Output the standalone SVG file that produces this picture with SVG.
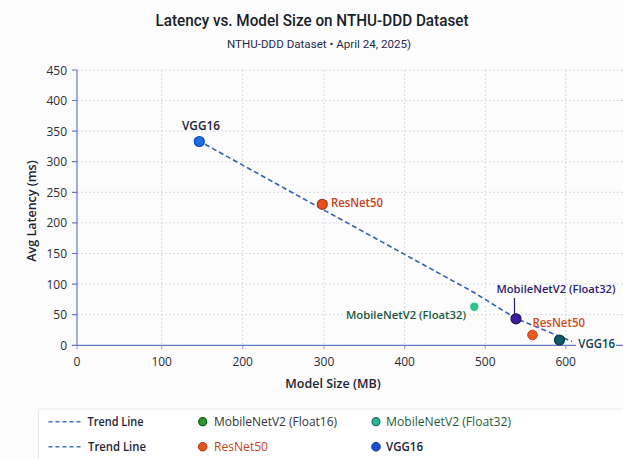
<svg xmlns="http://www.w3.org/2000/svg" width="623" height="459" viewBox="0 0 623 459">
<defs>
<style>
.title{font-family:Roboto,"Liberation Sans",sans-serif;font-weight:500;font-size:16.5px;fill:#1a1e2a;}
.sub{font-family:Roboto,"Liberation Sans",sans-serif;font-size:11px;fill:#1f2a4a;}
.grid{stroke:#d6dae3;stroke-width:1;stroke-dasharray:2 2;fill:none;}
.axis{stroke:#6677c4;stroke-width:1.2;fill:none;}
.tick{font-family:"Open Sans","Liberation Sans",sans-serif;font-size:12px;fill:#2a2d36;}
.axt{font-family:"Open Sans","Liberation Sans",sans-serif;font-size:12.5px;font-weight:600;fill:#1f2330;}
.trend{stroke:#2f63aa;stroke-width:1.6;stroke-dasharray:5 3;fill:none;}
.lbl{font-family:"Open Sans","Liberation Sans",sans-serif;font-size:12px;font-weight:600;}
.lbs{font-family:"Open Sans","Liberation Sans",sans-serif;font-size:11px;font-weight:600;}
.leg{font-family:"Open Sans","Liberation Sans",sans-serif;font-size:12px;}
</style>
</defs>
<rect x="0" y="0" width="623" height="459" fill="#fcfcfd"/>
<text class="title" x="312" y="26" text-anchor="middle" textLength="313" lengthAdjust="spacingAndGlyphs">Latency vs. Model Size on NTHU-DDD Dataset</text>
<text class="sub" x="319" y="48" text-anchor="middle" textLength="184" lengthAdjust="spacingAndGlyphs">NTHU-DDD Dataset • April 24, 2025)</text>

<g id="grid">
<path class="grid" d="M77,70H623M77,100.5H623M77,131.1H623M77,161.7H623M77,192.3H623M77,222.9H623M77,253.5H623M77,284.1H623M77,314.7H623"/>
<path class="grid" d="M161.7,70V345M242.7,70V345M324,70V345M404.7,70V345M485.3,70V345M565.7,70V345"/>
</g>

<g id="axes">
<path class="axis" d="M77,70V345.3M77,345.3H623"/>
<path class="axis" d="M72,70H77M72,100.5H77M72,131.1H77M72,161.7H77M72,192.3H77M72,222.9H77M72,253.5H77M72,284.1H77M72,314.7H77M72,345.3H77"/>
<path class="axis" d="M77,345.3V349.5M161.7,345.3V349M242.7,345.3V349M324,345.3V349M404.7,345.3V349M485.3,345.3V349M565.7,345.3V349" stroke-opacity="0.6"/>
<g class="tick" text-anchor="end">
<text x="67" y="74.5">450</text>
<text x="67" y="105">400</text>
<text x="67" y="135.6">350</text>
<text x="67" y="166.2">300</text>
<text x="67" y="196.8">250</text>
<text x="67" y="227.4">200</text>
<text x="67" y="258">150</text>
<text x="67" y="288.6">100</text>
<text x="67" y="319.2">50</text>
<text x="67" y="349.8">0</text>
</g>
<g class="tick" text-anchor="middle">
<text x="77" y="366">0</text>
<text x="161.7" y="366">100</text>
<text x="242.7" y="366">200</text>
<text x="324" y="366">300</text>
<text x="404.7" y="366">400</text>
<text x="485.3" y="366">500</text>
<text x="565.7" y="366">600</text>
</g>
<text class="axt" x="333" y="388" text-anchor="middle">Model Size (MB)</text>
<text class="axt" transform="translate(35.5,211) rotate(-90)" text-anchor="middle">Avg Latency (ms)</text>
</g>

<g id="connectors">
<path class="trend" d="M205,144.3L322,209L474,292.5L516,318.5L572,341.5"/>
<path d="M514.5,298V314" stroke="#2a1d5e" stroke-width="1.2"/>
</g>

<g id="vgg16-top">
<circle cx="199.3" cy="141.5" r="5" fill="#1a6fe6" stroke="#1048b0" stroke-width="1.2"/>
<text class="lbl" x="201" y="130" text-anchor="middle" fill="#1c2436" textLength="38" lengthAdjust="spacingAndGlyphs">VGG16</text>
</g>
<g id="resnet50-top">
<circle cx="322.3" cy="204.3" r="5" fill="#e8501c" stroke="#a83a12" stroke-width="1.2"/>
<text class="lbl" x="331" y="206.5" fill="#c4421a" textLength="52" lengthAdjust="spacingAndGlyphs">ResNet50</text>
</g>
<g id="mobilenet-float32-a">
<circle cx="474.3" cy="306.7" r="4.8" fill="#2fc390" stroke="#e8fff4" stroke-width="1.2"/>
<text class="lbs" x="466" y="318.5" text-anchor="end" fill="#1c5a3c" textLength="120" lengthAdjust="spacingAndGlyphs">MobileNetV2 (Float32)</text>
</g>
<g id="mobilenet-float32-b">
<circle cx="516" cy="318.8" r="5" fill="#3b1ea0" stroke="#1e1060" stroke-width="1.2"/>
<text class="lbs" x="496.5" y="292.5" fill="#2e2270" textLength="119" lengthAdjust="spacingAndGlyphs">MobileNetV2 (Float32)</text>
</g>
<g id="resnet50-bottom">
<circle cx="532.5" cy="335" r="4.8" fill="#f25a1c" stroke="#c0401a" stroke-width="1"/>
<text class="lbl" x="532.5" y="326.5" fill="#d04a1c" textLength="52.5" lengthAdjust="spacingAndGlyphs">ResNet50</text>
</g>
<g id="vgg16-bottom">
<circle cx="559.5" cy="340" r="5" fill="#0f5a6a" stroke="#073640" stroke-width="1.2"/>
<rect x="576" y="336" width="40" height="15" fill="#fcfcfd"/>
<text class="lbl" x="578.3" y="347.8" fill="#133d4c" textLength="36.7" lengthAdjust="spacingAndGlyphs">VGG16</text>
</g>

<g id="legend">
<rect x="38.5" y="409" width="600" height="60" rx="3" fill="#ffffff" stroke="#e8eaf0" stroke-width="1"/>
<path d="M48.5,421.7H83.5M48.5,446.7H83.5" stroke="#3a78c8" stroke-width="1.6" stroke-dasharray="4 3"/>
<text class="leg" x="87.5" y="426" fill="#1c2436" textLength="56" lengthAdjust="spacingAndGlyphs" style="font-weight:600">Trend Line</text>
<text class="leg" x="88" y="451" fill="#1c2436" textLength="58" lengthAdjust="spacingAndGlyphs" style="font-weight:600">Trend Line</text>
<circle cx="202.7" cy="421.7" r="4" fill="#2a9a2a" stroke="#145414" stroke-width="1.2"/>
<text class="leg" x="214" y="426" fill="#333" textLength="123" lengthAdjust="spacingAndGlyphs">MobileNetV2 (Float16)</text>
<circle cx="202.7" cy="446.7" r="4.3" fill="#e6521c" stroke="#a8380e" stroke-width="1"/>
<text class="leg" x="214" y="451" fill="#c8441a" textLength="54" lengthAdjust="spacingAndGlyphs">ResNet50</text>
<circle cx="376" cy="421.7" r="4" fill="#2ab59a" stroke="#137060" stroke-width="1.2"/>
<text class="leg" x="386" y="426" fill="#1f5a3a" textLength="125" lengthAdjust="spacingAndGlyphs">MobileNetV2 (Float32)</text>
<circle cx="376" cy="446.7" r="4.3" fill="#1a4fd6" stroke="#0c2f90" stroke-width="1"/>
<text class="leg" x="386" y="451" fill="#1c2436" textLength="37" lengthAdjust="spacingAndGlyphs" style="font-weight:600">VGG16</text>
</g>
</svg>
